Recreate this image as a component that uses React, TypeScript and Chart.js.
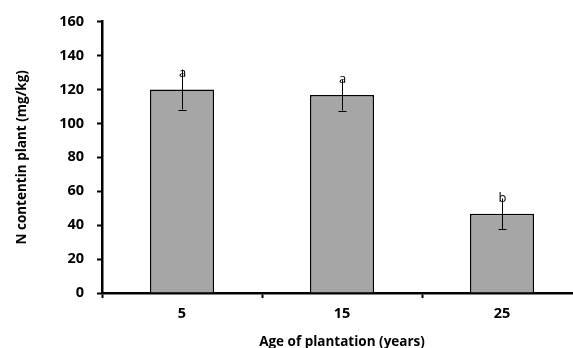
import React, { useEffect, useRef } from "react";
import { Chart, registerables } from "chart.js";

Chart.register(...registerables);

const categories = ["5", "15", "25"];
const values = [120, 116.8, 46.7];
const errors = [11.8, 9.2, 9.0];
const letters = ["a", "a", "b"];
const yTicks = [0, 20, 40, 60, 80, 100, 120, 140, 160];

const FONT = "'Open Sans', 'DejaVu Sans', sans-serif";

const annotPlugin = {
  id: "annot",
  afterDatasetsDraw(chart: any) {
    const { ctx, scales } = chart;
    const x = scales.x;
    const y = scales.y;
    ctx.save();
    ctx.strokeStyle = "#000";
    ctx.lineWidth = 1;
    values.forEach((v, i) => {
      const cx = Math.round(x.getPixelForValue(i)) + 0.5;
      const yt = y.getPixelForValue(v + errors[i]);
      const yb = y.getPixelForValue(v - errors[i]);
      ctx.beginPath();
      ctx.moveTo(cx, yt);
      ctx.lineTo(cx, yb);
      ctx.moveTo(cx - 4, Math.round(yb) + 0.5);
      ctx.lineTo(cx + 4, Math.round(yb) + 0.5);
      ctx.stroke();
      ctx.fillStyle = "#000";
      ctx.font = `13px ${FONT}`;
      ctx.textAlign = "center";
      ctx.textBaseline = "middle";
      ctx.fillText(letters[i], cx, y.getPixelForValue(v) - 16);
    });
    ctx.restore();
  },
};

export default function App() {
  const ref = useRef<HTMLCanvasElement | null>(null);
  useEffect(() => {
    if (!ref.current) return;
    const chart = new Chart(ref.current, {
      type: "bar",
      data: {
        labels: categories,
        datasets: [
          {
            data: values,
            backgroundColor: "#a6a6a6",
            borderColor: "#000",
            borderWidth: 1.5,
            barPercentage: 0.4,
            categoryPercentage: 1,
          },
        ],
      },
      options: {
        animation: false,
        responsive: false,
        devicePixelRatio: 1,
        layout: { padding: { top: 20, right: 18, left: 0, bottom: 0 } },
        plugins: { legend: { display: false }, tooltip: { enabled: false } },
        scales: {
          x: {
            grid: {
              offset: true,
              drawOnChartArea: false,
              drawTicks: true,
              tickLength: 5,
              tickWidth: 2,
              color: "#000",
            },
            border: { display: true, color: "#000", width: 2.5 },
            ticks: {
              color: "#000",
              font: { family: FONT, size: 14.5, weight: 700 },
              padding: 7,
            },
            title: {
              display: true,
              text: "Age of plantation (years)",
              color: "#000",
              font: { family: FONT, size: 13.5, weight: 700 },
              padding: { top: 0, bottom: -2 },
            },
            afterFit: (s: any) => {
              s.height = 55;
            },
          },
          y: {
            min: 0,
            max: 160,
            afterBuildTicks: (s: any) => {
              s.ticks = yTicks.map((v) => ({ value: v }));
            },
            grid: {
              drawOnChartArea: false,
              drawTicks: true,
              tickLength: 5,
              tickWidth: 2,
              color: "#000",
            },
            border: { display: true, color: "#000", width: 2.5 },
            ticks: {
              color: "#000",
              font: { family: FONT, size: 14.5, weight: 700 },
              padding: 13,
            },
            title: {
              display: true,
              text: "N contentin plant (mg/kg)",
              color: "#000",
              font: { family: FONT, size: 13.5, weight: 700 },
              padding: { top: 14, bottom: 0 },
            },
            afterFit: (s: any) => {
              s.width = 102;
            },
          },
        },
      },
      plugins: [annotPlugin],
    } as any);
    return () => chart.destroy();
  }, []);
  return (
    <div style={{ position: "fixed", left: 0, top: 0, width: 573, height: 348, overflow: "hidden", background: "#fff" }}>
      <canvas ref={ref} width={600} height={348} style={{ display: "block" }} />
    </div>
  );
}
